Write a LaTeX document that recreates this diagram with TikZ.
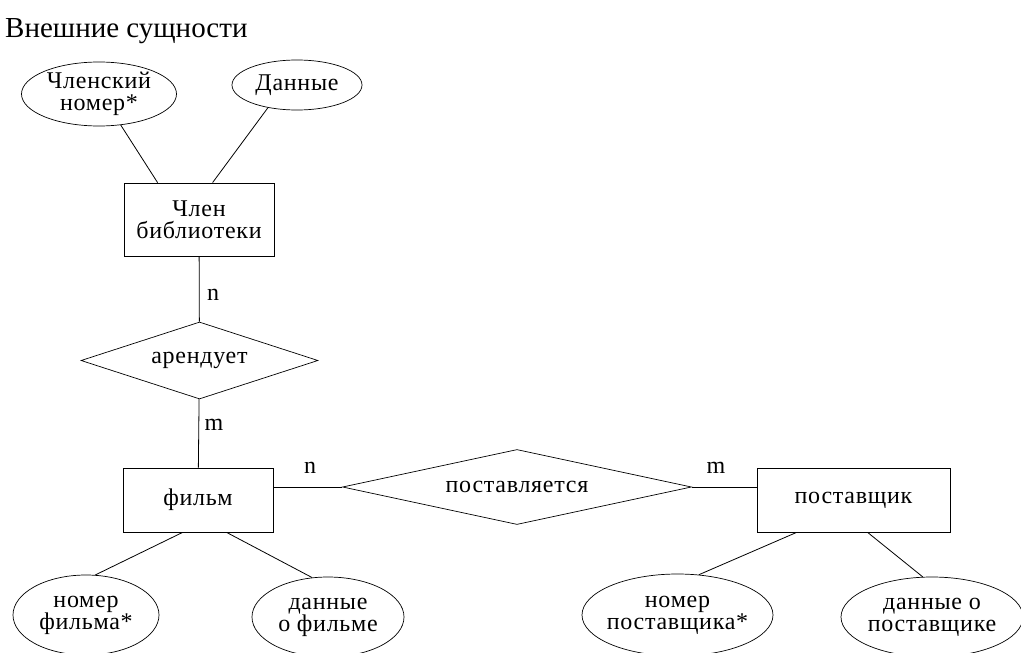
\documentclass[tikz,border=0pt]{standalone}
\usepackage{fontspec}
\setmainfont{Liberation Serif}
\newfontfamily\nodefont[LetterSpace=3]{Liberation Serif}
\usetikzlibrary{shapes.geometric,calc}
\begin{document}
\begin{tikzpicture}[x=1pt,y=-1pt,
  every node/.style={font=\nodefont\fontsize{24}{22}\selectfont, align=center, inner sep=0pt},
  entity/.style={draw, line width=0.8pt, rectangle},
  attr/.style={draw, line width=0.7pt, ellipse},
  rel/.style={draw, line width=0.7pt, diamond},
  conn/.style={line width=0.8pt},
  card/.style={font=\nodefont\fontsize{24}{24}\selectfont}]
\useasboundingbox (0,0) rectangle (1021,653);
\node[anchor=base west, font=\fontsize{29}{32}\selectfont] (title) at (5,37) {Внешние сущности};

\node[entity, minimum width=150, minimum height=73] (lib) at (199,219.5) {Член\\библиотеки};
\node[rel, aspect=3.08, minimum width=237, minimum height=77] (rents) at (199.5,360.5) {арендует};
\node[entity, minimum width=150, minimum height=64] (film) at (198,500) {фильм};
\node[rel, aspect=4.65, minimum width=349, minimum height=75] (sup) at (517,487) {поставляется};
\node[entity, minimum width=193, minimum height=64] (supp) at (853.5,500) {поставщик};

\node[attr, minimum width=155, minimum height=64] (e1) at (99,94) {Членский\\номер*};
\node[attr, minimum width=130, minimum height=50] (e2) at (297,85) {Данные};
\node[attr, minimum width=146, minimum height=80] (e3) at (86,615) {номер\\фильма*};
\node[attr, minimum width=152, minimum height=80] (e4) at (328,617) {данные\\о фильме};
\node[attr, inner xsep=-4pt, minimum width=191, minimum height=82] (e5) at (677.5,615) {номер\\поставщика*};
\node[attr, minimum width=182, minimum height=80] (e6) at (932,617) {данные о\\поставщике};

\draw[conn] (lib) -- (rents);
\draw[conn] (rents) -- (film);
\draw[conn] (sup.west -| film.east) -- (sup.west);
\draw[conn] (sup.east) -- (sup.east -| supp.west);

\draw[conn] (e1.-55) -- ([xshift=34pt]lib.north west);
\draw[conn] (e2.218) -- ([xshift=89pt]lib.north west);
\draw[conn] ([xshift=60pt]film.south west) -- (e3.77);
\draw[conn] ([xshift=104pt]film.south west) -- (e4.112);
\draw[conn] ([xshift=40pt]supp.south west) -- (e5.62);
\draw[conn] ([xshift=111pt]supp.south west) -- (e6.103);

\node[card] (c1) at (213,295) {n};
\node[card] (c2) at (214,425) {m};
\node[card] (c3) at (310,468) {n};
\node[card] (c4) at (716,468) {m};
\end{tikzpicture}
\end{document}
